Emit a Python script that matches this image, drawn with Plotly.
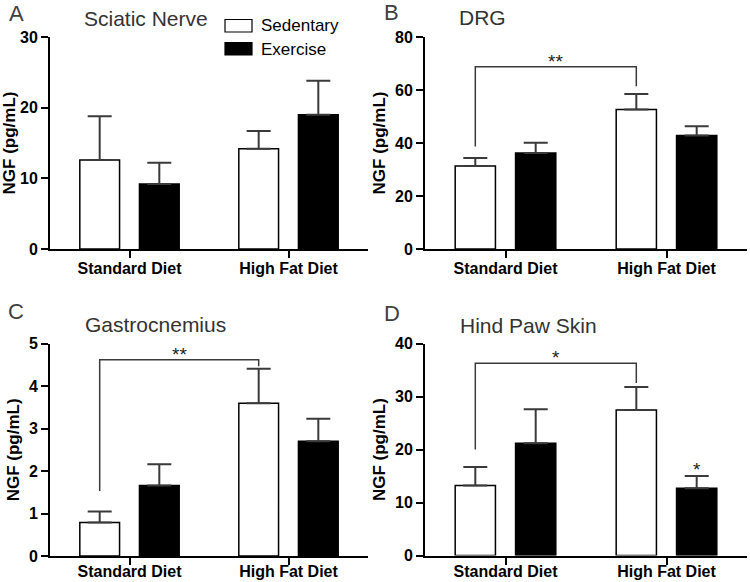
import plotly.graph_objects as go

# ---------------- data ----------------
categories = ["Standard Diet", "High Fat Diet"]
series_names = ["Sedentary", "Exercise"]

panel_letters = ["A", "B", "C", "D"]
panel_titles = ["Sciatic Nerve", "DRG", "Gastrocnemius", "Hind Paw Skin"]
y_max = [30, 80, 5, 40]
y_dtick = [10, 20, 1, 10]

sciatic_sed = [12.6, 14.2]
sciatic_sed_sem = [6.2, 2.5]
sciatic_ex = [9.2, 19.0]
sciatic_ex_sem = [3.0, 4.8]

drg_sed = [31.3, 52.6]
drg_sed_sem = [3.0, 5.9]
drg_ex = [36.2, 42.8]
drg_ex_sem = [3.9, 3.5]

gastro_sed = [0.79, 3.60]
gastro_sed_sem = [0.26, 0.81]
gastro_ex = [1.66, 2.70]
gastro_ex_sem = [0.50, 0.53]

paw_sed = [13.2, 27.5]
paw_sed_sem = [3.5, 4.3]
paw_ex = [21.2, 12.7]
paw_ex_sem = [6.4, 2.3]

# significance brackets: (panel index, bracket height, left leg end, right leg end, label)
bracket_panel = [1, 2, 3]
bracket_top = [68.8, 4.62, 36.3]
bracket_left_end = [38.7, 1.53, 20.0]
bracket_right_end = [61.4, 4.47, 32.6]
bracket_label = ["**", "**", "*"]

# single star over High Fat / Exercise in panel D
star_panel = 3
star_y = 15.0

sed_vals = [sciatic_sed, drg_sed, gastro_sed, paw_sed]
sed_sems = [sciatic_sed_sem, drg_sed_sem, gastro_sed_sem, paw_sed_sem]
ex_vals = [sciatic_ex, drg_ex, gastro_ex, paw_ex]
ex_sems = [sciatic_ex_sem, drg_ex_sem, gastro_ex_sem, paw_ex_sem]

# ---------------- layout helpers ----------------
W, H = 750, 582
FONT = "Liberation Sans, Arial, sans-serif"
GRAY = "#3a3a3a"

def px_x(p):
    return p / W

def px_y(p):
    return 1 - p / H

x_domains = [[px_x(50), px_x(368)], [px_x(425), px_x(747)],
             [px_x(50), px_x(368)], [px_x(425), px_x(747)]]
y_domains = [[px_y(249), px_y(37)], [px_y(249), px_y(37)],
             [px_y(556), px_y(343.7)], [px_y(555.5), px_y(343.7)]]
x_label_standoff = [-3, -3, -7, -7]

fig = go.Figure()
layout = {}
shapes = []
annotations = []

BAR_OFFSET = 0.1875  # half slot width of grouped bars

for i in range(4):
    xa = "x" if i == 0 else f"x{i+1}"
    ya = "y" if i == 0 else f"y{i+1}"
    for name, vals, sems, fill in [
        (series_names[0], sed_vals[i], sed_sems[i], "white"),
        (series_names[1], ex_vals[i], ex_sems[i], "black"),
    ]:
        fig.add_trace(go.Bar(
            x=categories, y=vals, name=name, xaxis=xa, yaxis=ya,
            marker=dict(color=fill, line=dict(color="black", width=1.5)),
            error_y=dict(type="data", symmetric=False, array=sems,
                         arrayminus=[0] * len(sems), color=GRAY,
                         thickness=2, width=12),
            showlegend=False,
        ))
    xkey = "xaxis" if i == 0 else f"xaxis{i+1}"
    ykey = "yaxis" if i == 0 else f"yaxis{i+1}"
    layout[xkey] = dict(
        domain=x_domains[i], anchor=ya, type="category", automargin=False,
        range=[-0.5, 1.5], showline=True, linecolor="black", linewidth=2,
        ticks="outside", ticklen=7, tickwidth=2, tickcolor="black",
        ticklabelstandoff=x_label_standoff[i],
        showgrid=False, zeroline=False, fixedrange=True,
        tickfont=dict(family=FONT, size=16, color="black", weight="bold"),
    )
    layout[ykey] = dict(
        domain=y_domains[i], anchor=xa, range=[0, y_max[i]], automargin=False,
        dtick=y_dtick[i], tick0=0, showline=True, linecolor="black",
        linewidth=2, ticks="outside", ticklen=7, tickwidth=2,
        tickcolor="black", showgrid=False, zeroline=False,
        tickfont=dict(family=FONT, size=16, color="black", weight="bold"),
        title=dict(text="NGF (pg/mL)", standoff=5,
                   font=dict(family=FONT, size=17, color="black", weight="bold")),
    )

# panel letters and titles
letter_pos = [(7, 13), (382, 12), (6, 311), (382, 313)]
title_pos = [(82, 19), (457, 17), (83, 324), (458, 325)]
for i in range(4):
    lx, ly = letter_pos[i]
    annotations.append(dict(text=panel_letters[i], x=px_x(lx), y=px_y(ly),
                            xref="paper", yref="paper", xanchor="left",
                            yanchor="middle", showarrow=False,
                            font=dict(family=FONT, size=22, color="#404040")))
    tx, ty = title_pos[i]
    annotations.append(dict(text=panel_titles[i], x=px_x(tx), y=px_y(ty),
                            xref="paper", yref="paper", xanchor="left",
                            yanchor="middle", showarrow=False,
                            font=dict(family=FONT, size=21, color="#333333")))

# brackets
for k in range(len(bracket_panel)):
    i = bracket_panel[k]
    xa = "x" if i == 0 else f"x{i+1}"
    ya = "y" if i == 0 else f"y{i+1}"
    xl = 0 - BAR_OFFSET
    xr = 1 - BAR_OFFSET
    path = (f"M {xl},{bracket_left_end[k]} L {xl},{bracket_top[k]} "
            f"L {xr},{bracket_top[k]} L {xr},{bracket_right_end[k]}")
    shapes.append(dict(type="path", path=path, xref=xa, yref=ya,
                       line=dict(color=GRAY, width=1.5)))
    annotations.append(dict(text=bracket_label[k], x=(xl + xr) / 2,
                            y=bracket_top[k], xref=xa, yref=ya,
                            xanchor="center", yanchor="bottom", yshift=-7,
                            showarrow=False,
                            font=dict(family=FONT, size=19, color="#222222")))

# single star
annotations.append(dict(text="*", x=1 + BAR_OFFSET, y=star_y,
                        xref=f"x{star_panel+1}", yref=f"y{star_panel+1}",
                        xanchor="center", yanchor="bottom", yshift=-6,
                        showarrow=False,
                        font=dict(family=FONT, size=19, color="#222222")))

# legend (drawn as boxes + labels, panel A)
legend_boxes = [(225, 19.5, 252, 32), (225, 42.5, 252, 55)]
legend_fill = ["white", "black"]
legend_text_y = [25.5, 49]
for j in range(2):
    x0, y0, x1, y1 = legend_boxes[j]
    shapes.append(dict(type="rect", xref="paper", yref="paper",
                       x0=px_x(x0), x1=px_x(x1), y0=px_y(y1), y1=px_y(y0),
                       fillcolor=legend_fill[j],
                       line=dict(color="black", width=1.2)))
    annotations.append(dict(text=series_names[j], x=px_x(259),
                            y=px_y(legend_text_y[j]), xref="paper",
                            yref="paper", xanchor="left", yanchor="middle",
                            showarrow=False,
                            font=dict(family=FONT, size=17, color="black")))

fig.update_layout(
    width=W, height=H,
    margin=dict(l=0, r=0, t=0, b=0, autoexpand=False),
    paper_bgcolor="white", plot_bgcolor="white",
    barmode="group", bargap=0.25, bargroupgap=1 / 3,
    shapes=shapes, annotations=annotations,
    **layout,
)

fig.write_html(
    "out.html",
    config={"displayModeBar": False},
    post_script="document.body.style.margin='0px';document.body.style.overflow='hidden';",
)
